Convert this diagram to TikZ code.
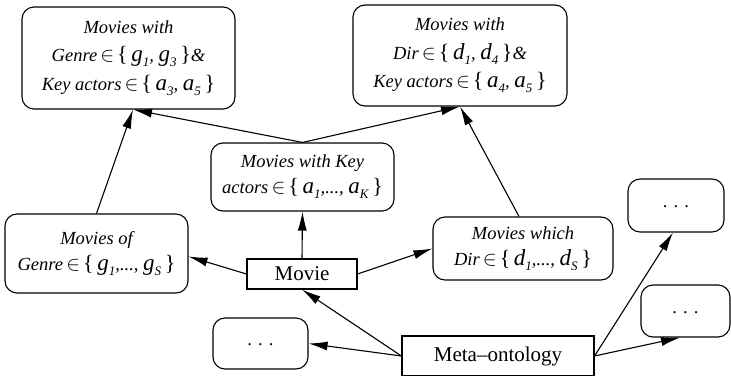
\documentclass[tikz,border=0pt]{standalone}
\usepackage{fontspec}
\setmainfont{Liberation Serif}
\usetikzlibrary{arrows.meta}

% set variable with italic subscript, e.g. \mvar{g}{1}
\newcommand\mvar[2]{{\fontsize{23}{23}\selectfont #1}\raisebox{-0.6ex}{\fontsize{13}{13}\selectfont #2}}
\newcommand\lbr{{\fontsize{22}{22}\selectfont\upshape\{\,}}
\newcommand\rbr{{\fontsize{22}{22}\selectfont\upshape\,\}}}
\newcommand\elem{\,{\fontsize{22}{22}\selectfont$\in$}\,}
% spaced dots of the placeholder boxes
\newcommand\pdots{\raisebox{-5pt}{\upshape.\,\,.\,\,.}}

\begin{document}
\begin{tikzpicture}[x=1pt, y=-1pt,
  rbox/.style={draw, line width=1.1pt, rounded corners=12pt, align=center,
    inner sep=0pt, font=\fontsize{18.5}{28.5}\selectfont\itshape},
  sbox/.style={draw, line width=1.1pt, inner sep=0pt,
    font=\fontsize{21}{24}\selectfont},
  arr/.style={-{Latex[length=19pt,width=9pt]}, line width=1.1pt}]

\useasboundingbox (0,0) rectangle (731,375);

% upper level
\node[rbox, minimum width=213pt, minimum height=102pt] (A) at (128.5,58)
  {Movies with\\ Genre\elem\lbr\mvar{g}{1}, \mvar{g}{3}\rbr\&\\
   Key actors\elem\lbr\mvar{a}{3}, \mvar{a}{5}\rbr};
\node[rbox, minimum width=214pt, minimum height=101pt] (B) at (460,55.5)
  {Movies with\\ Dir\elem\lbr\mvar{d}{1}, \mvar{d}{4}\rbr\&\\
   Key actors\elem\lbr\mvar{a}{4}, \mvar{a}{5}\rbr};

% middle level
\node[rbox, minimum width=183pt, minimum height=68pt, font=\fontsize{18.5}{26}\selectfont\itshape] (C) at (302.5,177)
  {Movies with Key\\ actors\elem\lbr\mvar{a}{1},..., \mvar{a}{K}\rbr};
\node[rbox, minimum width=183pt, minimum height=79pt, font=\fontsize{18.5}{26}\selectfont\itshape] (D) at (96.5,253.5)
  {Movies of\\ Genre\elem\lbr\mvar{g}{1},..., \mvar{g}{S}\rbr};
\node[rbox, minimum width=180pt, minimum height=63pt, font=\fontsize{18.5}{26}\selectfont\itshape] (E) at (523,248.5)
  {Movies which\\ Dir\elem\lbr\mvar{d}{1},..., \mvar{d}{S}\rbr};

% concept and meta level
\node[sbox, minimum width=110pt, minimum height=30pt] (movie) at (302,274) {Movie};
\node[sbox, minimum width=192pt, minimum height=40pt] (meta) at (498,356) {Meta--ontology};

% placeholder boxes
\node[rbox, minimum width=95pt, minimum height=51pt] (L) at (260.5,343.5) {\pdots};
\node[rbox, minimum width=96pt, minimum height=53pt] (RT) at (676,205.5) {\pdots};
\node[rbox, minimum width=89pt, minimum height=52pt] (RB) at (685.5,311) {\pdots};

% connectors
\draw[arr] (movie.north) -- (C.south);
\draw[arr] (movie.west) -- ([yshift=-3pt]D.east);
\draw[arr] (movie.east) -- (E.west);
\draw[arr] (C.north) -- ([xshift=4.5pt]A.south);
\draw[arr] (C.north) -- (B.south);
\draw[arr] (D.north) -- ([xshift=4.5pt]A.south);
\draw[arr] ([xshift=-4pt]E.north) -- (B.south);
\draw[arr] (meta.west) -- (movie.south);
\draw[arr] (meta.west) -- (L.east);
\draw[arr] (meta.east) -- ([xshift=-3pt]RT.south);
\draw[arr] (meta.east) -- ([xshift=-5.5pt]RB.south);
\end{tikzpicture}
\end{document}
